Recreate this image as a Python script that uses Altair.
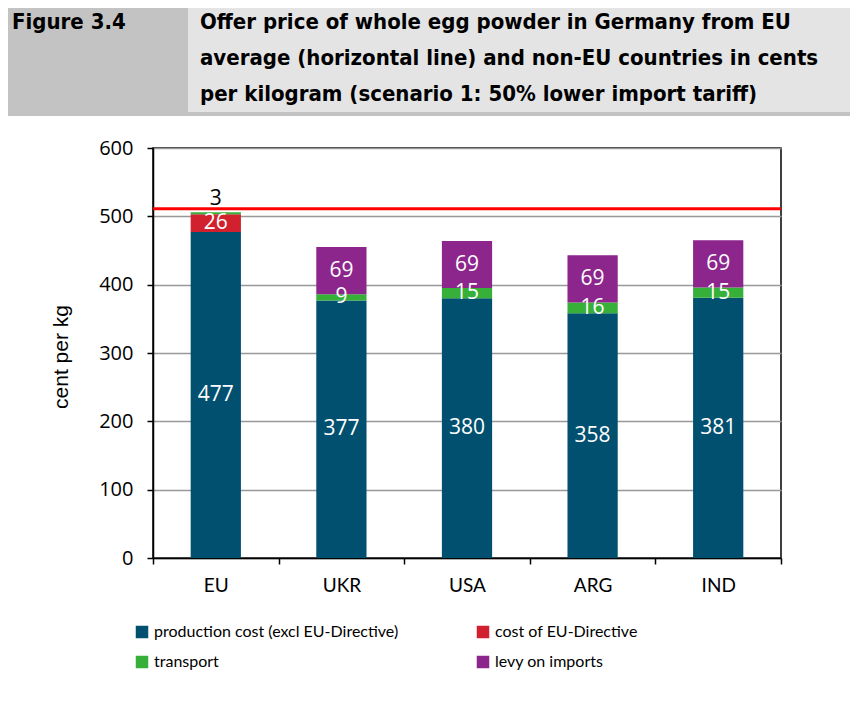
import altair as alt
import pandas as pd

countries = ["EU", "UKR", "USA", "ARG", "IND"]
components = [
    "production cost (excl EU-Directive)",
    "cost of EU-Directive",
    "transport",
    "levy on imports",
]
production = [477, 377, 380, 358, 381]
directive = [26, 0, 0, 0, 0]
transport = [3, 9, 15, 16, 15]
levy = [0, 69, 69, 69, 69]
eu_average = [511]
colors = ["#02506F", "#D1202E", "#36B039", "#8C258C"]

figure_label = "Figure 3.4"
title_lines = [
    "Offer price of whole egg powder in Germany from EU",
    "average (horizontal line) and non-EU countries in cents",
    "per kilogram (scenario 1: 50% lower import tariff)",
]
y_title = "cent per kg"

rows = []
for i, c in enumerate(countries):
    for j, vals in enumerate([production, directive, transport, levy]):
        if vals[i] > 0:
            rows.append({"country": c, "component": components[j],
                         "value": vals[i], "order": j})
df = pd.DataFrame(rows)

W, H = 628, 410
COND = "DejaVu Sans Condensed"
LAB = "Lato"
NUM = "Open Sans"

base = alt.Chart(df).transform_stack(
    stack="value", groupby=["country"], as_=["y0", "y1"],
    sort=[alt.SortField("order", "ascending")],
).transform_calculate(mid="(datum.y0 + datum.y1) / 2")

x_axis = alt.Axis(title=None, tickBand="extent", labelAngle=0)
x_enc = alt.X("country:N", sort=countries,
              scale=alt.Scale(paddingInner=0, paddingOuter=0), axis=x_axis)
x_plain = alt.X("country:N", sort=countries, axis=x_axis)
y_scale = alt.Scale(domain=[0, 600], nice=False)
y_axis = alt.Axis(title=None, values=[0, 100, 200, 300, 400, 500, 600])

bars = base.mark_bar(width=alt.RelativeBandSize(0.4)).encode(
    x=x_enc,
    y=alt.Y("y0:Q", scale=y_scale, axis=y_axis),
    y2="y1:Q",
    color=alt.Color(
        "component:N",
        scale=alt.Scale(domain=components, range=colors),
        legend=alt.Legend(title=None, orient="none", legendX=-19, legendY=476,
                          columns=2, direction="horizontal",
                          symbolType="square", symbolSize=156,
                          symbolStrokeWidth=0, labelFont=LAB,
                          labelFontSize=16, labelColor="black", labelOffset=4,
                          labelLimit=400, columnPadding=76, rowPadding=14),
    ),
)

labels = base.transform_filter("datum.value >= 5").mark_text(
    color="white", font=NUM, fontSize=21, baseline="middle"
).encode(x=x_plain, y=alt.Y("mid:Q", axis=y_axis), text="value:Q")

small = base.transform_filter("datum.value < 5").mark_text(
    color="black", font=NUM, fontSize=21, baseline="middle", dy=-13
).encode(x=x_plain, y=alt.Y("y1:Q", axis=y_axis), text="value:Q")

rule = alt.Chart(pd.DataFrame({"avg": eu_average})).mark_rule(
    color="#FF0000", strokeWidth=3
).encode(y=alt.Y("avg:Q", axis=y_axis))

hdr = pd.DataFrame({"k": [0]})
dark = alt.Chart(hdr).mark_rect(color="#c3c3c3").encode(
    x=alt.value(-145), x2=alt.value(697), y=alt.value(-140), y2=alt.value(-32))
light = alt.Chart(hdr).mark_rect(color="#e4e4e4").encode(
    x=alt.value(35), x2=alt.value(697), y=alt.value(-140), y2=alt.value(-36))
fig_text = alt.Chart(hdr).mark_text(
    text=figure_label, font=COND, fontWeight="bold", fontSize=22,
    align="left", baseline="alphabetic", color="black"
).encode(x=alt.value(-141), y=alt.value(-119))
title_layers = []
for k, line in enumerate(title_lines):
    title_layers.append(alt.Chart(hdr).mark_text(
        text=line, font=COND, fontWeight="bold", fontSize=22,
        align="left", baseline="alphabetic", color="black"
    ).encode(x=alt.value(47), y=alt.value(-119 + 36 * k)))
ytitle = alt.Chart(hdr).mark_text(
    text=y_title, font="Liberation Sans", fontSize=21, angle=270,
    align="center", baseline="middle", color="black"
).encode(x=alt.value(-91), y=alt.value(H / 2 + 4))

chart = alt.layer(dark, light, fig_text, *title_layers, ytitle,
                  bars, labels, small, rule).properties(
    width=W, height=H,
    autosize=alt.AutoSizeParams(type="none"),
    padding={"left": 145, "top": 140, "right": 69, "bottom": 146},
).configure_view(stroke="black", strokeWidth=1.5).configure_axisX(
    grid=False, labelFont=LAB, labelFontSize=19, labelColor="black",
    labelPadding=12, tickSize=6, tickColor="black", tickWidth=1.5,
    domainColor="black", domainWidth=1.5,
).configure_axisY(
    labelFont=NUM, labelFontSize=20, labelColor="black",
    labelPadding=14, tickSize=6, tickColor="black", tickWidth=1.5,
    domainColor="black", domainWidth=1.5,
    grid=True, gridColor="#999999", gridWidth=1.5,
)

chart.save("out.html", embed_options={"renderer": "svg", "actions": False})
